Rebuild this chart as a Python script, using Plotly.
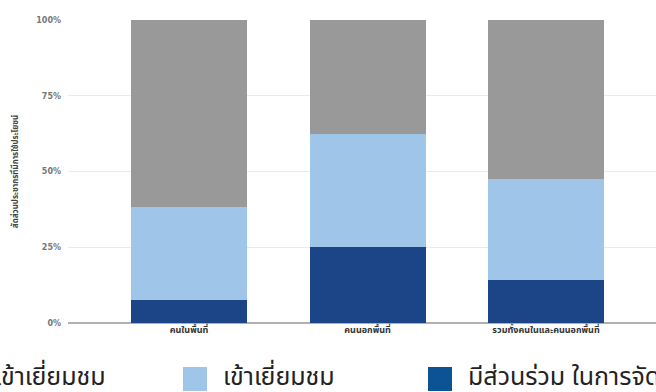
import plotly.graph_objects as go

# ---- data ----
categories   = ["คนในพื้นที่", "คนนอกพื้นที่", "รวมทั้งคนในและคนนอกพื้นที่"]
participated = [7.5, 25.0, 14.3]
visited      = [30.8, 37.5, 33.2]
not_visited  = [61.7, 37.5, 52.5]
series_names = ["ไม่เข้าเยี่ยมชม", "เข้าเยี่ยมชม", "มีส่วนร่วม ในการจัดกิจกรรม"]
y_ticks      = [0, 25, 50, 75, 100]

bar_colors    = ["#999999", "#9fc5e8", "#1c4587"]
legend_colors = ["#999999", "#9fc5e8", "#0b5394"]
font_thai = "Noto Sans Thai, Noto Sans, Loma, Garuda, sans-serif"

W, H = 656, 392
ml, mr, mt, mb = 68, 0, 20, 69
pw, ph = W - ml - mr, H - mt - mb

def px(x): return (x - ml) / pw
def py(y): return (H - mb - y) / ph

fig = go.Figure()
for name, vals, col in zip([series_names[2], series_names[1], series_names[0]],
                           [participated, visited, not_visited],
                           [bar_colors[2], bar_colors[1], bar_colors[0]]):
    fig.add_trace(go.Bar(x=categories, y=vals, name=name, marker=dict(color=col, line=dict(width=0)),
                         showlegend=False, hoverinfo="skip"))

# legend drawn by hand (big swatches, partly cut off like the source)
shapes, ann = [], []
legend_x = [-70, 183, 428]
for i, (name, col) in enumerate(zip(series_names, legend_colors)):
    x0 = legend_x[i]
    shapes.append(dict(type="rect", xref="paper", yref="paper",
                       x0=px(x0), x1=px(x0 + 24), y0=py(391), y1=py(367),
                       fillcolor=col, line=dict(width=0), layer="above"))
    ann.append(dict(xref="paper", yref="paper", x=px(x0 + 38), y=py(377), xanchor="left", yanchor="middle",
                    text=name, showarrow=False, font=dict(family=font_thai, size=25, color="#222222")))

fig.update_layout(
    width=W, height=H, barmode="stack", bargap=0.35,
    margin=dict(l=ml, r=mr, t=mt, b=mb, pad=0),
    plot_bgcolor="white", paper_bgcolor="white",
    font=dict(family=font_thai),
    xaxis=dict(type="category", range=[-0.678, 2.616], showgrid=False, ticks="", showline=False,
               tickfont=dict(size=9, color="#333333"), ticklabelstandoff=0),
    yaxis=dict(range=[0, 100], tickvals=y_ticks, ticktext=[f"<b>{v}%</b>" for v in y_ticks],
               gridcolor="#ebebeb", gridwidth=1, zeroline=True, zerolinecolor="#b0b0b0", zerolinewidth=1.5,
               tickfont=dict(family="DejaVu Sans, sans-serif", size=8, color="#777777"),
               ticklabelstandoff=6,
               title=dict(text="<b>สัดส่วนประชากรที่มีการใช้ประโยชน์</b>", font=dict(size=8, color="#444444"),
                          standoff=16)),
    shapes=shapes, annotations=ann,
)
fig.update_xaxes(ticktext=[f"<b>{c}</b>" for c in categories], tickvals=categories)

fig.write_html("out.html", config={"displayModeBar": False},
               post_script="document.body.style.margin='0';")
